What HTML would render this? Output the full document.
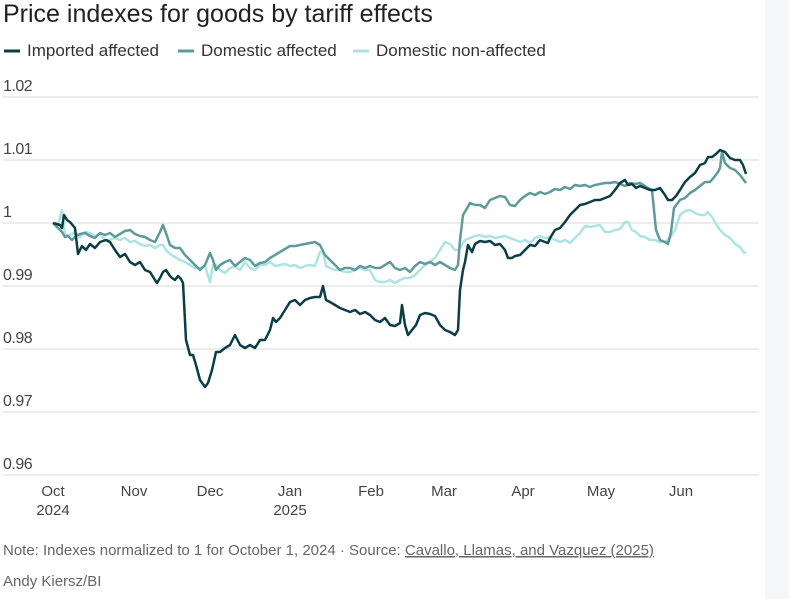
<!DOCTYPE html>
<html><head><meta charset="utf-8"><style>
body{margin:0;width:789px;height:599px;background:#fff;overflow:hidden;font-family:"Liberation Sans",sans-serif;}
.strip{position:absolute;left:765px;top:0;width:24px;height:599px;background:#f5f6f8}
</style></head><body>
<div class="strip"></div>
<svg width="789" height="599" style="position:absolute;left:0;top:0" font-family="Liberation Sans, sans-serif">
<text x="3" y="22" font-size="25" fill="#222">Price indexes for goods by tariff effects</text>
<g font-size="17" fill="#333">
<line x1="4" y1="51" x2="20" y2="51" stroke="#0b3d46" stroke-width="3"/><text x="27" y="56">Imported affected</text>
<line x1="178" y1="51" x2="194" y2="51" stroke="#5e9a9a" stroke-width="3"/><text x="201" y="56">Domestic affected</text>
<line x1="353" y1="51" x2="369" y2="51" stroke="#aee3e3" stroke-width="3"/><text x="376" y="56">Domestic non-affected</text>
</g>
<g stroke="#e6e6e6" stroke-width="1.5">
<line x1="3" x2="759" y1="97" y2="97"/><line x1="3" x2="759" y1="160" y2="160"/><line x1="3" x2="759" y1="223" y2="223"/><line x1="3" x2="759" y1="286" y2="286"/><line x1="3" x2="759" y1="349" y2="349"/><line x1="3" x2="759" y1="412" y2="412"/><line x1="3" x2="759" y1="475" y2="475"/>
</g>
<g font-size="16" fill="#444" letter-spacing="-0.5">
<text x="3" y="91">1.02</text><text x="3" y="154">1.01</text><text x="3" y="217">1</text><text x="3" y="280">0.99</text><text x="3" y="343">0.98</text><text x="3" y="406">0.97</text><text x="3" y="469">0.96</text>
</g>
<g font-size="15" fill="#444" text-anchor="middle">
<text x="53" y="496">Oct</text><text x="53" y="515">2024</text><text x="134" y="496">Nov</text><text x="210" y="496">Dec</text><text x="290" y="496">Jan</text><text x="290" y="515">2025</text><text x="371" y="496">Feb</text><text x="444" y="496">Mar</text><text x="523" y="496">Apr</text><text x="601" y="496">May</text><text x="681" y="496">Jun</text>
</g>
<g fill="none" stroke-width="2.5" stroke-linejoin="round">
<polyline stroke="#aee3e3" points="53,223 58,225 62,210 65,235 70,235 75,232 80,237 85,232 90,233 95,236 100,234 105,240 110,240 115,238 120,240 125,238 130,242 135,241 140,244 145,246 150,245 155,248 160,245 163,245 166,250 170,254 175,257 180,260 185,262 190,265 195,268 200,268 205,266 210,282 213,265 216,265 220,270 225,273 230,268 235,266 240,270 245,262 250,268 255,270 260,265 265,265 270,262 275,266 280,265 285,264 290,266 295,265 300,268 305,266 310,265 315,266 320,252 323,252 326,266 330,268 335,270 340,270 345,272 350,272 355,270 360,268 365,270 370,270 375,280 380,282 385,282 390,280 395,283 400,280 405,278 410,278 415,275 420,270 425,265 430,262 435,258 440,250 445,242 450,244 455,250 458,250 460,248 465,240 470,238 475,236 480,235 485,237 490,236 495,238 500,237 505,236 510,238 515,240 520,242 525,240 530,243 535,238 540,236 545,238 550,238 555,240 560,242 565,240 570,243 575,238 580,233 585,226 590,227 595,226 600,225 605,232 610,232 615,230 620,229 625,222 628,222 632,230 636,232 640,236 645,237 650,240 655,240 660,242 665,242 670,238 675,230 680,215 685,211 690,210 695,213 700,215 705,215 708,212 712,217 716,224 720,230 725,235 730,238 735,244 740,247 744,253 746,252"/>
<polyline stroke="#5e9a9a" points="53,223 58,228 62,232 65,237 68,236 72,240 76,236 80,234 85,233 90,236 95,238 100,233 105,235 110,233 115,237 120,234 125,231 130,230 135,234 140,236 145,237 150,240 155,242 160,232 163,225 166,233 170,245 175,248 180,248 185,255 190,260 195,265 200,270 205,265 210,253 213,260 216,270 220,265 225,262 230,260 235,266 240,262 245,258 250,260 255,266 260,263 265,262 270,258 275,255 280,252 285,249 290,246 295,246 300,245 305,244 310,243 315,242 320,245 325,255 330,260 335,265 340,270 345,268 350,268 355,270 360,266 365,268 370,266 375,268 380,268 385,265 390,262 395,268 400,270 405,268 410,272 415,266 420,262 425,264 430,262 435,265 440,262 445,265 450,268 455,270 458,265 460,240 463,215 466,210 470,203 475,205 480,205 485,208 490,200 495,198 500,196 505,197 510,205 515,206 520,200 525,196 530,193 535,195 540,192 545,194 550,192 555,189 560,190 565,187 570,189 575,185 580,186 585,185 590,187 595,185 600,184 605,183 610,183 615,182 620,184 625,186 630,183 635,184 640,183 645,186 648,188 652,190 656,230 660,240 665,242 668,244 671,232 674,208 680,200 685,198 690,193 695,190 700,186 705,182 710,182 715,176 718,172 720,168 722,152 725,163 730,168 735,170 740,175 746,183"/>
<polyline stroke="#0b3d46" points="53,223 60,225 62,228 64,215 67,220 70,222 75,228 78,254 82,246 86,250 90,244 95,248 100,242 106,240 110,242 115,250 120,257 125,254 130,262 135,265 140,262 145,270 150,272 155,280 157,283 160,278 163,272 166,270 170,276 172,278 175,280 178,276 181,279 183,283 186,340 190,355 193,355 196,365 200,380 205,387 208,383 212,370 216,352 220,352 225,348 230,345 235,335 240,345 245,348 250,345 255,348 260,340 265,340 270,330 273,318 276,322 280,318 285,310 290,302 295,300 300,305 305,300 310,298 315,297 320,297 323,286 326,300 330,302 335,305 340,308 345,310 350,312 355,310 360,314 365,312 370,315 375,320 380,322 385,318 390,325 395,326 400,323 402,305 405,325 408,335 412,330 416,325 420,315 425,313 430,314 435,316 440,325 445,330 450,332 455,335 458,330 460,290 463,270 465,262 468,245 472,252 475,244 480,241 485,242 490,241 495,245 500,244 505,250 508,258 512,258 515,256 520,255 525,250 530,245 535,246 540,240 545,242 548,243 550,238 555,230 560,228 565,222 570,215 575,210 580,205 585,204 590,202 595,200 600,200 605,198 610,196 615,190 620,183 625,180 628,185 632,184 636,188 640,186 645,188 650,190 655,190 660,188 665,195 668,200 672,200 676,196 680,190 685,182 690,177 695,173 700,165 705,163 708,157 712,157 716,154 720,150 725,152 730,158 735,160 740,160 743,165 746,174"/>
</g>
<text x="3" y="555" font-size="15" fill="#666">Note: Indexes normalized to 1 for October 1, 2024 · Source: <tspan text-decoration="underline">Cavallo, Llamas, and Vazquez (2025)</tspan></text>
<text x="3" y="586" font-size="15" fill="#666">Andy Kiersz/BI</text>
</svg>
</body></html>
